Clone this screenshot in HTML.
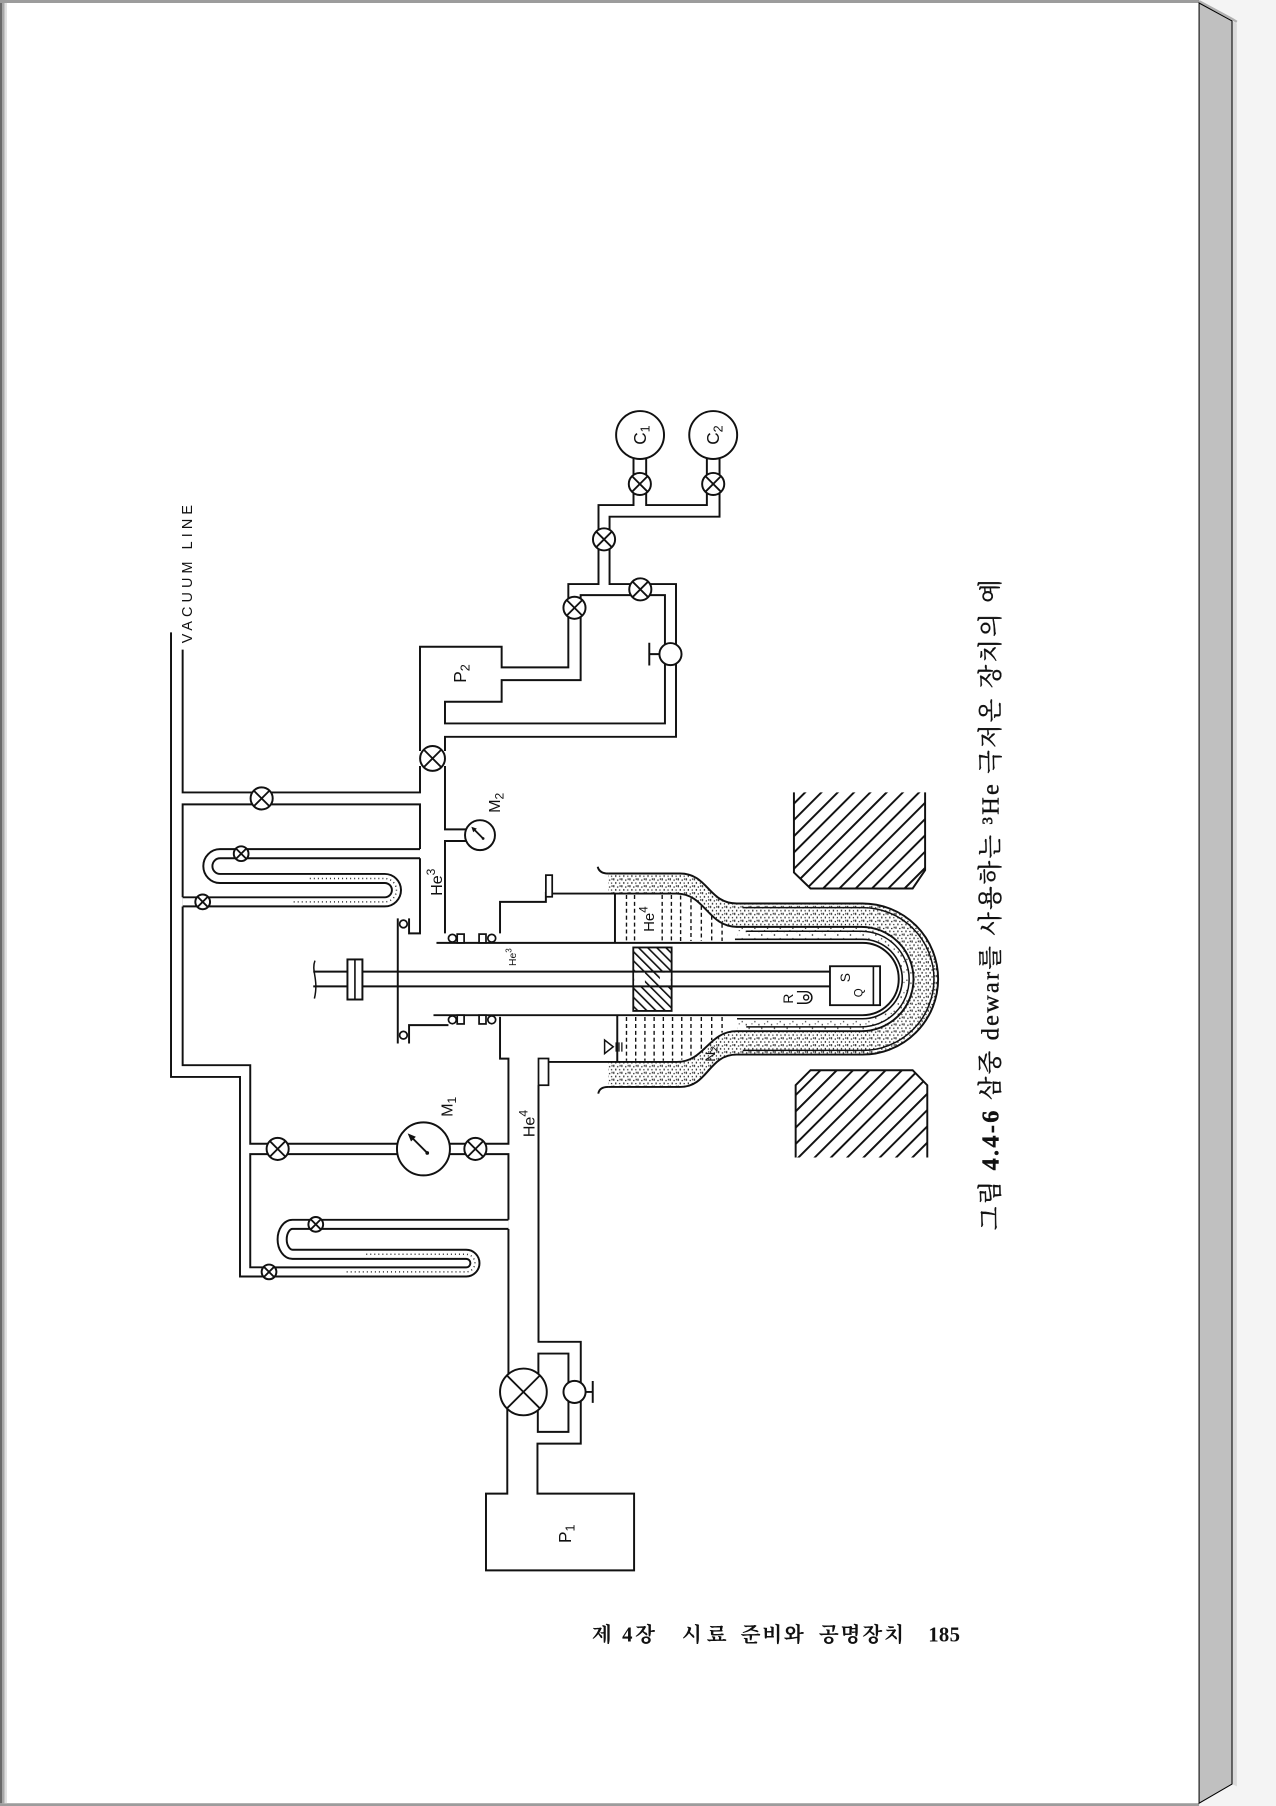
<!DOCTYPE html>
<html><head><meta charset="utf-8"><title>3He cryostat figure</title>
<style>html,body{margin:0;padding:0;background:#f4f4f4;overflow:hidden}svg{display:block}</style>
</head><body>
<svg xmlns="http://www.w3.org/2000/svg" width="1276" height="1806" viewBox="0 0 1108 1568" preserveAspectRatio="none">
<defs>
 <pattern id="hm" patternUnits="userSpaceOnUse" width="10" height="10" patternTransform="rotate(45)"><rect x="0" y="0" width="1.7" height="10" fill="#111"/></pattern>
 <pattern id="hi" patternUnits="userSpaceOnUse" width="5.6" height="5.6" patternTransform="rotate(-45)"><rect x="0" y="0" width="1.4" height="5.6" fill="#111"/></pattern>
 <pattern id="dots" patternUnits="userSpaceOnUse" width="7" height="6">
  <rect x="0.5" y="0.5" width="1" height="1.9" fill="#1a1a1a"/>
  <rect x="3.8" y="1.6" width="1.1" height="1.1" fill="#1a1a1a"/>
  <rect x="2.2" y="3.8" width="1" height="1.6" fill="#1a1a1a"/>
  <rect x="5.6" y="4.2" width="1" height="1.1" fill="#1a1a1a"/>
  <rect x="6" y="0.6" width="0.9" height="1.4" fill="#1a1a1a"/>
 </pattern>
 <pattern id="dots2" patternUnits="userSpaceOnUse" width="11" height="9">
  <rect x="1" y="1" width="1" height="1.5" fill="#222"/>
  <rect x="6" y="4.5" width="1" height="1.1" fill="#222"/>
  <rect x="9.5" y="7" width="1" height="1.3" fill="#222"/>
  <rect x="3.5" y="6.5" width="0.9" height="0.9" fill="#222"/>
 </pattern>
</defs>

<!-- page frame -->
<rect x="0" y="0" width="1108" height="1568" fill="#f4f4f4"/>
<rect x="0" y="0" width="1041.2" height="1568" fill="#fff"/>
<rect x="0" y="0" width="1041.2" height="2.6" fill="#9c9c9c"/>
<rect x="0" y="1565.6" width="1041.2" height="2.4" fill="#9c9c9c"/>
<rect x="0" y="2.6" width="2" height="1563" fill="#6a6a6a"/>
<rect x="2" y="2.6" width="2" height="1563" fill="#a8a8a8"/>
<rect x="4" y="2.6" width="2" height="1563" fill="#e0e0e0"/>
<polygon points="1070,18.2 1074,20.5 1074,1551 1070,1549" fill="#dadada"/>
<polyline points="1041.2,1 1070,16.5 1074,19" fill="none" stroke="#b0b0b0" stroke-width="2"/>
<polygon points="1041.2,2.6 1069.8,18.2 1069.8,1549 1041.2,1565.6" fill="#c0c0c0" stroke="#000" stroke-width="0.9"/>

<!-- stipple regions -->
<path fill="url(#dots)" fill-rule="evenodd" d="M528 758.4 H590.5 C615 758.4 615 784.4 639.7 784.4 H749 A65.6 65.6 0 0 1 749 915.6 H639.7 C615 915.6 615 943.7 590.5 943.7 H528 Z M528 775.8 H587.6 C612 775.8 615 804.7 639.7 804.7 H748 A45.3 45.3 0 0 1 748 895.3 H639.7 C615 895.3 612 922 587.6 922 H528 Z"/>
<path fill="url(#dots2)" fill-rule="evenodd" d="M640 804.7 H748 A45.3 45.3 0 0 1 748 895.3 H640 Z M640 815.5 H749 A34.5 34.5 0 0 1 749 884.5 H640 Z"/>

<!-- magnet pole pieces -->
<polygon points="689.4,688 689.4,757.5 703.8,771.4 792.5,771.4 803.3,755.5 803.3,688" fill="url(#hm)"/>
<polyline points="689.4,688 689.4,757.5 703.8,771.4 792.5,771.4 803.3,755.5 803.3,688" fill="none" stroke="#111" stroke-width="1.7"/>
<polygon points="690.9,1005 690.9,942.2 703.8,929.2 792.5,929.2 805.2,942.2 805.2,1005" fill="url(#hm)"/>
<polyline points="690.9,1005 690.9,942.2 703.8,929.2 792.5,929.2 805.2,942.2 805.2,1005" fill="none" stroke="#111" stroke-width="1.7"/>

<g fill="none" stroke="#111" stroke-width="1.7" stroke-linejoin="miter">
 <!-- C / P2 network -->
 <path d="M550.1 397.7 V438.5 H519.7 V468.3"/>
 <path d="M561.1 397.7 V438.5 H613.8 V397.7"/>
 <path d="M624.8 397.7 V448.6 H529.3 V468.3"/>
 <path d="M519.7 468.3 V507.1 H493.5 V527.7"/>
 <path d="M529.3 468.3 V507.1 H556"/>
 <path d="M504.2 527.7 V516.7 H556"/>
 <path d="M556 507.1 H587 V567.9"/>
 <path d="M556 516.7 H577.4 V567.9"/>
 <path d="M577.4 567.9 V628.1 H386.4 V609.3 H435.6 V590.5 H504.2 V527.7"/>
 <path d="M587 567.9 V639.7 H386.4 V652"/>
 <path d="M386.4 665 V720.1 H416.8"/>
 <path d="M416.8 730.2 H386.4 V810.4"/>
 <path d="M493.5 527.7 V579.4 H435.6 V561.5 H364.7 V652"/>
 <path d="M364.7 665 V688 H227.2"/>
 <path d="M227.2 698.4 H364.7 V737.1"/>
 <path d="M227.2 688 H158.6 V564"/>
 <path d="M227.2 698.4 H158.6 V779"/>
 <path d="M158.6 787 V924.8 H217.3 V993 H241.1"/>
 <path d="M148.5 549 V935 H208.4 V1108.3 H233.6"/>
 <path d="M241.1 1002 H217.3 V1100.3 H233.6"/>
 <path d="M241.1 993 H412.8"/>
 <path d="M241.1 1002 H412.8"/>
 <path d="M412.8 993 H441.5 V919.1 H434.2 V882.9"/>
 <path d="M412.8 1002 H441.5 V1059"/>
 <path d="M441.5 1067 V1208.5"/>
 <path d="M440.5 1208.5 V1296.8 H422 V1363.4 H550.6 V1296.8 H466.7 V1253.4 H504.3 V1208.5"/>
 <path d="M467.6 942.2 V1165 H504.3 V1208.5"/>
 <path d="M467.5 1208.5 V1175.2 H493.6 V1208.5"/>
 <path d="M467 1208.5 V1243.2 H493.6 V1208.5"/>
 <path d="M508.5 1208.5 H514.7 M514.7 1199 V1218"/>
 <path d="M572.6 567.9 H563.8 M563.8 558 V577.8"/>
 <!-- cryostat head -->
 <path d="M364.7 745.2 V810.4 H355.2 V797.4"/>
 <path d="M345.4 797.4 V906"/>
 <path d="M355.2 906 V890 H389.4"/>
 <path d="M434.2 810.4 V783 H474 V774.3"/>
 <path d="M379 818.6 H749 A31.4 31.4 0 0 1 749 881.4 H376.4"/>
 <!-- dewar walls -->
 <path d="M479.5 775.8 H587.6 C612 775.8 615 804.7 639.7 804.7 H748 A45.3 45.3 0 0 1 748 895.3 H639.7 C615 895.3 612 922 587.6 922 H476.3"/>
 <path d="M648 808.5 H748 A41.5 41.5 0 0 1 748 891.5 H648" stroke-width="1.3"/>
 <path d="M638.2 815.5 H749 A34.5 34.5 0 0 1 749 884.5 H640" stroke-width="1.4"/>
 <path d="M528 758.4 H590.5 C615 758.4 615 784.4 639.7 784.4 H749 A65.6 65.6 0 0 1 749 915.6 H639.7 C615 915.6 615 943.7 590.5 943.7 H528"/>
 <path d="M645 788 H749 A62 62 0 0 1 749 912 H645" stroke-width="1.3"/>
 <path d="M528 758.4 Q520.5 758.4 519 752.5 M528 943.7 Q520.5 943.7 519.5 949.5"/>
 <path d="M534 775.8 V818.6 M536 881.4 V922"/>
 <!-- He4 liquid dashes -->
 <path stroke-width="1.2" stroke-dasharray="3.5 2.5" d="M544 777 V817 M551 777 V817 M575 777 V817 M583 777 V817 M591 777.5 V817 M600 780 V817 M609 786.5 V817 M618 795 V817 M627 802 V817"/>
 <path stroke-width="1.2" stroke-dasharray="3.5 2.5" d="M544 883 V921 M552 883 V921 M560 883 V921 M568 883 V921 M576 883 V921 M584 883 V921 M592 883 V920 M600 883 V917.5 M609 883 V911.5 M618 883 V903 M627 883 V896.5"/>
 <!-- level marker -->
 <polygon points="525,903 525,914.7 532.5,908.8" stroke-width="1.3"/>
 <path stroke-width="1.1" d="M535 905 V913 M537.5 905 V913 M540 905 V913"/>
</g>

<!-- inner hatched block + rod -->
<rect x="549.9" y="822.6" width="33.3" height="55.1" fill="url(#hi)" stroke="#111" stroke-width="1.6"/>
<rect x="550.7" y="844.4" width="9.3" height="11.2" fill="#fff"/>
<rect x="573" y="844.4" width="9.4" height="11.2" fill="#fff"/>
<g fill="none" stroke="#111" stroke-width="1.7">
 <path d="M272 843.6 H720.7 M272 856.4 H720.7"/>
 <path d="M273.5 834 C270 843 277 850 273 867" stroke-width="1.3"/>
</g>
<rect x="301.7" y="833" width="13" height="34.8" fill="#fff" stroke="#111" stroke-width="1.7"/>
<path d="M308.2 833 V867.8" stroke="#111" stroke-width="1.4"/>
<!-- sample box -->
<rect x="720.7" y="838.9" width="43.5" height="33.8" fill="#fff" stroke="#111" stroke-width="1.6"/>
<path d="M758.4 838.9 V872.7" stroke="#111" stroke-width="1.4"/>
<path d="M692 861 H700 A5 5 0 0 1 700 871 H692" fill="none" stroke="#111" stroke-width="1.3"/>
<circle cx="700" cy="866" r="2.2" fill="none" stroke="#111" stroke-width="1.2"/>

<!-- flanges & o-rings -->
<g fill="#fff" stroke="#111" stroke-width="1.5">
 <rect x="474" y="759.8" width="5.5" height="18.8"/>
 <rect x="467.6" y="919" width="8.7" height="23.2"/>
 <circle cx="350.3" cy="802.2" r="3.3"/>
 <circle cx="350.3" cy="898.8" r="3.3"/>
 <circle cx="392.8" cy="814.6" r="3.4"/>
 <circle cx="427" cy="814.6" r="3.4"/>
 <circle cx="392.8" cy="885.4" r="3.4"/>
 <circle cx="427" cy="885.4" r="3.4"/>
 <rect x="397" y="811" width="6" height="7.6"/>
 <rect x="416" y="811" width="6" height="7.6"/>
 <rect x="397" y="881.4" width="6" height="7.6"/>
 <rect x="416" y="881.4" width="6" height="7.6"/>
</g>

<!-- U-tubes (double wall) -->
<g fill="none" stroke-linejoin="round">
 <path d="M364.7 741.2 H191 A10.5 10.75 0 0 0 191 762.7 H334.1 A10.15 10.15 0 0 1 334.1 783 H158.6" stroke="#111" stroke-width="9.6"/>
 <path d="M364.7 741.2 H191 A10.5 10.75 0 0 0 191 762.7 H334.1 A10.15 10.15 0 0 1 334.1 783 H158.6" stroke="#fff" stroke-width="6.2"/>
 <path d="M441.5 1063 H254 A9 13 0 0 0 254 1089 H404.8 A7.6 7.65 0 0 1 404.8 1104.3 H233.6" stroke="#111" stroke-width="9.6"/>
 <path d="M441.5 1063 H254 A9 13 0 0 0 254 1089 H404.8 A7.6 7.65 0 0 1 404.8 1104.3 H233.6" stroke="#fff" stroke-width="6.2"/>
 <path d="M269 762.7 H334.1 A10.15 10.15 0 0 1 334.1 783 H254" stroke="#333" stroke-width="1.3" stroke-dasharray="0.9 2.6"/>
 <path d="M318 1089 H404.8 A7.6 7.65 0 0 1 404.8 1104.3 H300" stroke="#333" stroke-width="1.3" stroke-dasharray="0.9 2.6"/>
</g>

<!-- valves -->
<g fill="#fff" stroke="#111" stroke-width="1.7">
 <circle cx="555.6" cy="420.2" r="9.6"/><circle cx="619.3" cy="420.2" r="9.6"/>
 <circle cx="524.5" cy="468.3" r="9.6"/><circle cx="498.85" cy="527.7" r="9.6"/>
 <circle cx="556" cy="511.7" r="9.6"/><circle cx="375.6" cy="658.5" r="10.8"/>
 <circle cx="227.2" cy="693.2" r="9.6"/><circle cx="209.4" cy="741.2" r="6.4"/>
 <circle cx="176" cy="783" r="6.4"/><circle cx="241.1" cy="997.5" r="9.6"/>
 <circle cx="412.8" cy="997.5" r="9.6"/><circle cx="274.2" cy="1063" r="6.4"/>
 <circle cx="233.6" cy="1104.3" r="6.4"/><circle cx="454.5" cy="1208.5" r="20.3"/>
 <!-- T valves -->
 <circle cx="582.2" cy="567.9" r="9.6"/><circle cx="498.9" cy="1208.5" r="9.6"/>
 <!-- gauges -->
 <circle cx="416.8" cy="725.1" r="13"/><circle cx="367.7" cy="997.5" r="23"/>
 <!-- bulbs -->
 <circle cx="555.8" cy="377.7" r="20.8"/><circle cx="619.3" cy="377.7" r="20.8"/>
</g>
<g fill="none" stroke="#111" stroke-width="1.6">
 <path d="M548.81 413.41 L562.39 426.99 M548.81 426.99 L562.39 413.41"/>
 <path d="M612.51 413.41 L626.09 426.99 M612.51 426.99 L626.09 413.41"/>
 <path d="M517.71 461.51 L531.29 475.09 M517.71 475.09 L531.29 461.51"/>
 <path d="M492.06 520.91 L505.64 534.49 M492.06 534.49 L505.64 520.91"/>
 <path d="M549.21 504.91 L562.79 518.49 M549.21 518.49 L562.79 504.91"/>
 <path d="M367.96 650.86 L383.24 666.14 M367.96 666.14 L383.24 650.86"/>
 <path d="M220.41 686.41 L233.99 699.99 M220.41 699.99 L233.99 686.41"/>
 <path d="M204.88 736.68 L213.92 745.72 M204.88 745.72 L213.92 736.68"/>
 <path d="M171.48 778.48 L180.52 787.52 M171.48 787.52 L180.52 778.48"/>
 <path d="M234.31 990.71 L247.89 1004.29 M234.31 1004.29 L247.89 990.71"/>
 <path d="M406.01 990.71 L419.59 1004.29 M406.01 1004.29 L419.59 990.71"/>
 <path d="M269.68 1058.48 L278.72 1067.52 M269.68 1067.52 L278.72 1058.48"/>
 <path d="M229.08 1099.78 L238.12 1108.82 M229.08 1108.82 L238.12 1099.78"/>
 <path d="M440.15 1194.15 L468.85 1222.85 M440.15 1222.85 L468.85 1194.15"/>
 <!-- needles -->
 <path d="M371 1001 L357 987"/>
 <path d="M419.5 728 L411.5 720"/>
</g>
<g fill="#111">
 <polygon points="354,984 361.1,986.9 356.9,991.1"/>
 <circle cx="371" cy="1001" r="1.6"/>
 <polygon points="409.3,717.8 414.1,719.4 410.9,722.6"/>
 <circle cx="419.5" cy="728" r="1.2"/>
</g>

<!-- labels -->
<g font-family="'Liberation Sans', Arial, sans-serif" fill="#111" text-anchor="middle">
 <text transform="translate(162.5,498.5) rotate(-90)" dy="0.35em" font-size="12.5" textLength="120" lengthAdjust="spacing">VACUUM  LINE</text>
 <text transform="translate(399.4,584.7) rotate(-90)" dy="0.35em" font-size="15">P<tspan font-size="11" dy="3">2</tspan></text>
 <text transform="translate(555.8,377.7) rotate(-90)" dy="0.35em" font-size="15">C<tspan font-size="11" dy="3">1</tspan></text>
 <text transform="translate(619.3,377.7) rotate(-90)" dy="0.35em" font-size="15">C<tspan font-size="11" dy="3">2</tspan></text>
 <text transform="translate(429.3,697) rotate(-90)" dy="0.35em" font-size="14">M<tspan font-size="10.5" dy="3">2</tspan></text>
 <text transform="translate(388,961) rotate(-90)" dy="0.35em" font-size="14">M<tspan font-size="10.5" dy="3">1</tspan></text>
 <text transform="translate(379,766) rotate(-90)" dy="0.35em" font-size="14">He<tspan font-size="10.5" dy="-6">3</tspan></text>
 <text transform="translate(445,831) rotate(-90)" dy="0.35em" font-size="9">He<tspan font-size="7" dy="-4">3</tspan></text>
 <text transform="translate(563.5,798) rotate(-90)" dy="0.35em" font-size="13">He<tspan font-size="10" dy="-6">4</tspan></text>
 <text transform="translate(459,975.5) rotate(-90)" dy="0.35em" font-size="14">He<tspan font-size="10.5" dy="-6">4</tspan></text>
 <text transform="translate(616.5,915) rotate(-90)" dy="0.35em" font-size="12">N<tspan font-size="9" dy="2.5">2</tspan></text>
 <text transform="translate(684.5,867) rotate(-90)" dy="0.35em" font-size="12">R</text>
 <text transform="translate(733.8,848.8) rotate(-90)" dy="0.35em" font-size="12">S</text>
 <text transform="translate(745.4,862) rotate(-90)" dy="0.35em" font-size="10">Q</text>
 <text transform="translate(490.7,1331.6) rotate(-90)" dy="0.35em" font-size="15">P<tspan font-size="11" dy="3">1</tspan></text>
</g>

<!-- caption -->
<text transform="translate(859.5,1068) rotate(-90)" dy="0.36em" font-family="'Liberation Serif','Noto Serif CJK SC','Noto Sans CJK KR',serif" font-size="21" fill="#111" stroke="#111" stroke-width="0.35" textLength="565" lengthAdjust="spacing">그림 <tspan font-weight="bold">4.4-6</tspan>  삼중 dewar를 사용하는 ³He 극저온 장치의 예</text>

<!-- footer -->
<g font-family="'Liberation Serif','Noto Serif CJK SC','Noto Sans CJK KR',serif" font-size="18" font-weight="bold" fill="#111">
 <text x="513.8" y="1425" textLength="55" lengthAdjust="spacing">제 4장</text>
 <text x="592" y="1425" textLength="39" lengthAdjust="spacing">시료</text>
 <text x="643" y="1425" textLength="55" lengthAdjust="spacing">준비와</text>
 <text x="711" y="1425" textLength="74" lengthAdjust="spacing">공명장치</text>
 <text x="806" y="1425" textLength="27.6" lengthAdjust="spacing">185</text>
</g>
</svg>
</body></html>
